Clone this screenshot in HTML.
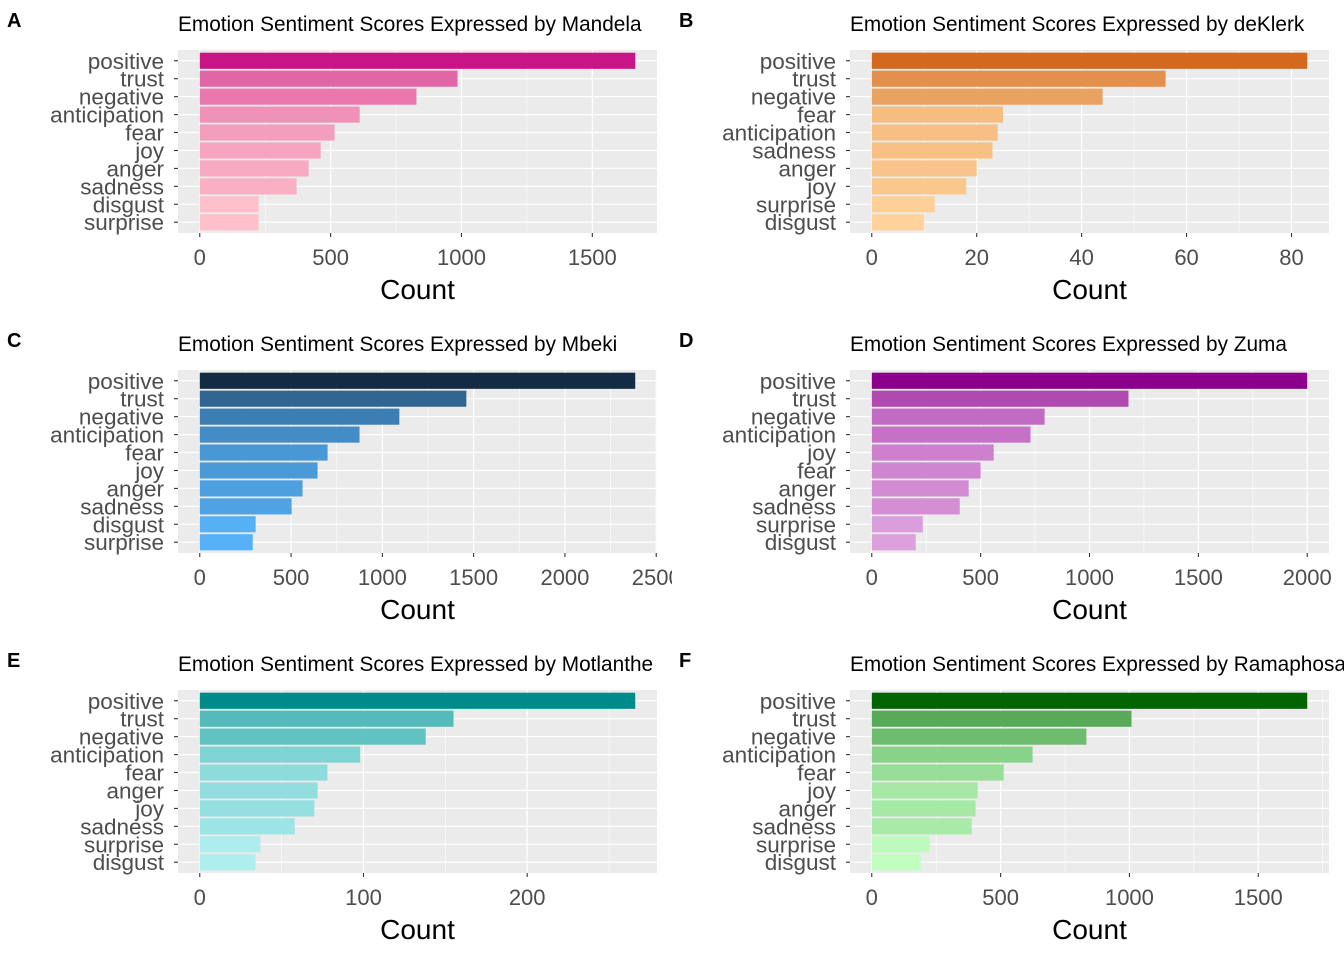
<!DOCTYPE html>
<html><head><meta charset="utf-8"><style>
body{margin:0;background:#fff;width:1344px;height:960px;overflow:hidden}
svg{display:block;font-family:"Liberation Sans",Arial,sans-serif}
</style></head><body>
<svg id="chart" width="1344" height="960" viewBox="0 0 1344 960" xmlns="http://www.w3.org/2000/svg">
<defs>
<clipPath id="clipL"><rect x="0" y="0" width="672" height="960"/></clipPath>
<clipPath id="clipR"><rect x="672" y="0" width="672" height="960"/></clipPath>
</defs>
</svg>
<script>
const panelLetters = ["A","B","C","D","E","F"];
const speakers = ["Mandela","deKlerk","Mbeki","Zuma","Motlanthe","Ramaphosa"];
const catsA = ["positive","trust","negative","anticipation","fear","joy","anger","sadness","disgust","surprise"];
const valsA = [1664,985,828,611,515,462,416,370,225,225];
const catsB = ["positive","trust","negative","fear","anticipation","sadness","anger","joy","surprise","disgust"];
const valsB = [83,56,44,25,24,23,20,18,12,10];
const catsC = ["positive","trust","negative","anticipation","fear","joy","anger","sadness","disgust","surprise"];
const valsC = [2385,1460,1093,875,700,645,563,503,306,290];
const catsD = ["positive","trust","negative","anticipation","joy","fear","anger","sadness","surprise","disgust"];
const valsD = [2000,1179,794,729,560,500,445,404,234,202];
const catsE = ["positive","trust","negative","anticipation","fear","anger","joy","sadness","surprise","disgust"];
const valsE = [266,155,138,98,78,72,70,58,37,34];
const catsF = ["positive","trust","negative","anticipation","fear","joy","anger","sadness","surprise","disgust"];
const valsF = [1690,1008,833,624,512,411,403,388,225,190];
const ticksA = [0,500,1000,1500];
const ticksB = [0,20,40,60,80];
const ticksC = [0,500,1000,1500,2000,2500];
const ticksD = [0,500,1000,1500,2000];
const ticksE = [0,100,200];
const ticksF = [0,500,1000,1500];
const lowColors = ["#FFC0CB","#FFD39B","#56B1F7","#DDA0DD","#AFEEEE","#C1FFC1"];
const highColors = ["#C71585","#D2691E","#132B43","#8B008B","#008B8B","#006400"];

const allCats=[catsA,catsB,catsC,catsD,catsE,catsF];
const allVals=[valsA,valsB,valsC,valsD,valsE,valsF];
const allTicks=[ticksA,ticksB,ticksC,ticksD,ticksE,ticksF];
const NS="http://www.w3.org/2000/svg";
const svg=document.getElementById('chart');
function mk(tag,attrs,parent,text){const e=document.createElementNS(NS,tag);for(const k in attrs)e.setAttribute(k,attrs[k]);if(text!==undefined)e.textContent=text;parent.appendChild(e);return e;}
function hex(c){return [1,3,5].map(i=>parseInt(c.substr(i,2),16));}
function lerp(a,b,t){const A=hex(a),B=hex(b);return 'rgb('+A.map((v,i)=>Math.round(v+(B[i]-v)*t)).join(',')+')';}

for(let p=0;p<6;p++){
  const col=p%2,row=Math.floor(p/2);
  const ox=col*672, oy=row*320;
  const L=ox+178,R=ox+657,T=oy+50,B=oy+233;
  const cats=allCats[p],vals=allVals[p],ticks=allTicks[p];
  const g=mk('g',{'clip-path':col?'url(#clipR)':'url(#clipL)'},svg);
  
  
  const mx=Math.max(...vals),mn=Math.min(...vals);
  const d0=-0.05*mx,d1=1.05*mx;
  const xs=v=>L+(v-d0)/(d1-d0)*(R-L);
  const n=cats.length, unit=(B-T)/(n+0.2);
  const ys=i=>T+unit*(0.6+i);
  const letter=mk('text',{x:ox+7,y:oy+27,'font-size':20,'font-weight':'bold',fill:'#000'},g,panelLetters[p]);
  
  
  const title=mk('text',{x:L,y:oy+31,'font-size':20.8,fill:'#000'},g,'Emotion Sentiment Scores Expressed by '+speakers[p]);
  
  
  const bg=mk('rect',{x:L,y:T,width:R-L,height:B-T,fill:'#EBEBEB'},g);
  
  
  const step=ticks[1]-ticks[0];
  for(let m=ticks[0]+step/2;m<d1;m+=step){
    const ml=mk('line',{x1:xs(m),x2:xs(m),y1:T,y2:B,stroke:'#fff','stroke-width':0.6},g);
    
    
  }
  ticks.forEach(t=>{
    const gl=mk('line',{x1:xs(t),x2:xs(t),y1:T,y2:B,stroke:'#fff','stroke-width':1.2},g);
    
    
    const tk=mk('line',{x1:xs(t),x2:xs(t),y1:B,y2:B+4,stroke:'#333','stroke-width':1.1},g);
    
    
    const tl=mk('text',{x:xs(t),y:B+32,'font-size':22,fill:'#4D4D4D','text-anchor':'middle'},g,String(t));
    
    
  });
  cats.forEach((c,i)=>{
    const y=ys(i);
    const hl=mk('line',{x1:L,x2:R,y1:y,y2:y,stroke:'#fff','stroke-width':1.2},g);
    
    
    const t=(vals[i]-mn)/(mx-mn||1);
    const bar=mk('rect',{x:xs(0),y:y-unit*0.45,width:xs(vals[i])-xs(0),height:unit*0.9,fill:lerp(lowColors[p],highColors[p],t)},g);
    
    
    const yt=mk('line',{x1:L-4,x2:L,y1:y,y2:y,stroke:'#333','stroke-width':1.1},g);
    
    
    const yl=mk('text',{x:L-14,y:y+8,'font-size':22.5,fill:'#4D4D4D','text-anchor':'end'},g,c);
    
    
  });
  const xt=mk('text',{x:(L+R)/2,y:oy+299,'font-size':28,fill:'#000','text-anchor':'middle'},g,'Count');
  
  
}
</script>
</body></html>
